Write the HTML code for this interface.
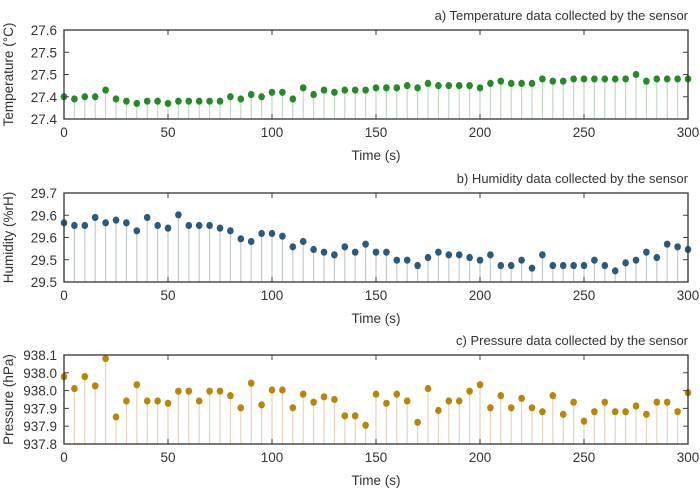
<!DOCTYPE html>
<html><head><meta charset="utf-8"><style>
body{margin:0;background:#fff;}
svg text{font-family:"Liberation Sans",sans-serif;fill:#333;}
</style></head><body>
<svg id="chart" width="700" height="498" xmlns="http://www.w3.org/2000/svg"></svg>
<script>
const times = [];
for (let t = 0; t <= 300; t += 5) times.push(t);
const xTicks = [0, 50, 100, 150, 200, 250, 300];
const tempValues = [27.40,27.395,27.40,27.40,27.415,27.395,27.39,27.385,27.39,27.39,27.385,27.39,27.39,27.39,27.39,27.39,27.40,27.395,27.405,27.40,27.41,27.41,27.395,27.42,27.405,27.415,27.41,27.415,27.415,27.415,27.42,27.42,27.42,27.425,27.42,27.43,27.425,27.425,27.425,27.425,27.42,27.43,27.435,27.43,27.43,27.43,27.44,27.435,27.435,27.44,27.44,27.44,27.44,27.44,27.44,27.45,27.435,27.44,27.44,27.44,27.44];
const humValues = [29.583,29.577,29.577,29.595,29.583,29.589,29.583,29.565,29.595,29.577,29.571,29.601,29.577,29.577,29.577,29.571,29.565,29.547,29.541,29.559,29.559,29.553,29.529,29.541,29.523,29.517,29.511,29.529,29.517,29.535,29.517,29.517,29.499,29.499,29.487,29.505,29.517,29.511,29.511,29.505,29.499,29.511,29.487,29.487,29.499,29.481,29.511,29.487,29.487,29.487,29.487,29.499,29.487,29.475,29.493,29.499,29.517,29.505,29.535,29.529,29.523];
const presValues = [938.027,937.987,938.027,937.996,938.088,937.891,937.945,938.000,937.945,937.945,937.937,937.978,937.978,937.945,937.978,937.978,937.963,937.922,938.005,937.932,937.982,937.982,937.922,937.968,937.941,937.959,937.950,937.895,937.895,937.863,937.968,937.937,937.968,937.945,937.873,937.987,937.913,937.945,937.945,937.978,938.000,937.922,937.963,937.922,937.954,937.922,937.909,937.963,937.900,937.941,937.877,937.909,937.941,937.909,937.909,937.928,937.900,937.941,937.941,937.909,937.973];
const tempTickVals = [27.35,27.40,27.45,27.50,27.55];
const tempTickLabels = ["27.4","27.4","27.5","27.5","27.6"];
const humTickVals = [29.45,29.50,29.55,29.60,29.65];
const humTickLabels = ["29.5","29.5","29.6","29.6","29.7"];
const presTickVals = [937.80,937.86,937.92,937.98,938.04,938.10];
const presTickLabels = ["937.8","937.9","937.9","938.0","938.0","938.1"];

const NS = "http://www.w3.org/2000/svg";
const svg = document.getElementById("chart");
function mk(tag, attrs, parent) {
  const e = document.createElementNS(NS, tag);
  for (const k in attrs) e.setAttribute(k, attrs[k]);
  (parent || svg).appendChild(e);
  return e;
}
const X0 = 64, X1 = 688;
function xScale(t) { return X0 + (t - 0) / 300 * (X1 - X0); }

function panel(key, top, bottom, lo, hi, values, tickVals, tickLabels, title, ylabel, dot, stem) {
  const g = mk("g", {});
  
  
  const y = v => bottom - (v - lo) / (hi - lo) * (bottom - top);
  const t = mk("text", {x: X1, y: top - 10, "text-anchor": "end", "font-size": "13"}, g);
  t.textContent = title;
  
  
  // stems and dots
  values.forEach((v, i) => {
    const s = mk("line", {x1: xScale(times[i]), x2: xScale(times[i]), y1: bottom, y2: y(v), stroke: stem, "stroke-width": "1.2"}, g);
    
    
  });
  values.forEach((v, i) => {
    const c = mk("ellipse", {cx: xScale(times[i]), cy: y(v), rx: 3.3, ry: 3.6, fill: dot}, g);
    
    
  });
  // y ticks
  tickVals.forEach((tv, i) => {
    const yy = y(tv);
    mk("line", {x1: X0, x2: X0 + 5, y1: yy, y2: yy, stroke: "#444", "stroke-width": "1"}, g);
    mk("line", {x1: X1, x2: X1 - 5, y1: yy, y2: yy, stroke: "#444", "stroke-width": "1"}, g);
    const l = mk("text", {x: X0 - 7, y: yy + 5, "text-anchor": "end", "font-size": "13.5"}, g);
    l.textContent = tickLabels[i];
    
    
  });
  xTicks.forEach(tv => {
    const xx = xScale(tv);
    mk("line", {x1: xx, x2: xx, y1: bottom, y2: bottom - 5, stroke: "#444", "stroke-width": "1"}, g);
    mk("line", {x1: xx, x2: xx, y1: top, y2: top + 5, stroke: "#444", "stroke-width": "1"}, g);
    const l = mk("text", {x: xx, y: bottom + 18, "text-anchor": "middle", "font-size": "13.5"}, g);
    l.textContent = String(tv);
    
    
  });
  const fr = mk("rect", {x: X0, y: top, width: X1 - X0, height: bottom - top, fill: "none", stroke: "#333", "stroke-width": "1.3"}, g);
  
  
  const xt = mk("text", {x: (X0 + X1) / 2, y: bottom + 41, "text-anchor": "middle", "font-size": "13.5"}, g);
  xt.textContent = "Time (s)";
  
  
  const cy = (top + bottom) / 2;
  const yt = mk("text", {x: 13, y: cy, "text-anchor": "middle", "font-size": "13.5", transform: "rotate(-90 13 " + cy + ")"}, g);
  yt.textContent = ylabel;
  
  
}
panel("temperature", 30, 119, 27.35, 27.55, tempValues, tempTickVals, tempTickLabels,
  "a) Temperature data collected by the sensor", "Temperature (°C)", "#27892a", "#c5d8c4");
panel("humidity", 193, 282, 29.45, 29.65, humValues, humTickVals, humTickLabels,
  "b) Humidity data collected by the sensor", "Humidity (%rH)", "#2d5a7b", "#c4ccd4");
panel("pressure", 355, 444, 937.8, 938.1, presValues, presTickVals, presTickLabels,
  "c) Pressure data collected by the sensor", "Pressure (hPa)", "#b8860b", "#e6d3c0");
</script>
</body></html>
